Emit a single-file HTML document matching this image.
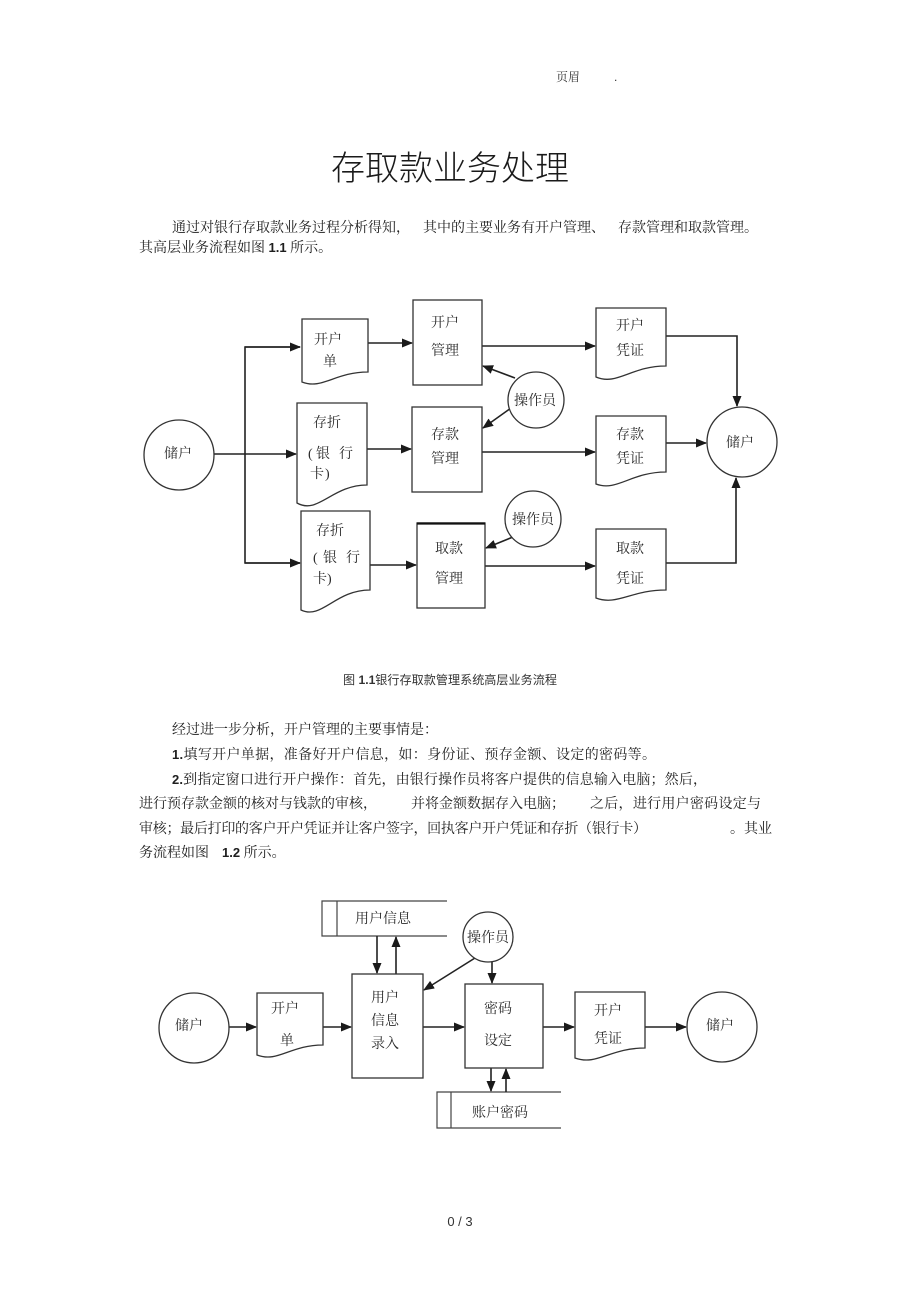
<!DOCTYPE html>
<html><head><meta charset="utf-8"><style>
html,body{margin:0;padding:0;background:#fff;}
svg{display:block;}
.t{font-family:"Liberation Serif","Noto Serif CJK SC",serif;font-size:14px;fill:#1e1e1e;}
.l{font-family:"Liberation Serif","Noto Serif CJK SC",serif;font-size:14px;fill:#2a2a2a;}
.n{font-family:"Liberation Sans",sans-serif;font-weight:bold;font-size:14px;fill:#1e1e1e;}
.s{fill:#fff;stroke:#333;stroke-width:1.3;}
.c{fill:none;stroke:#222;stroke-width:1.6;}
</style></head><body>
<svg width="920" height="1303" viewBox="0 0 920 1303" xmlns="http://www.w3.org/2000/svg">
<defs>
<marker id="a" markerWidth="11" markerHeight="9" refX="10" refY="4.5" orient="auto" markerUnits="userSpaceOnUse"><path d="M0,0 L11,4.5 L0,9 z" fill="#1a1a1a"/></marker>
</defs>

<!-- header -->
<text x="556" y="81" style="font-family:'Liberation Serif','Noto Serif CJK SC',serif;font-size:12px;fill:#333">页眉</text>
<text x="614" y="81" style="font-family:'Liberation Sans',sans-serif;font-size:12px;fill:#333">.</text>

<!-- title -->
<text x="450" y="180" text-anchor="middle" style="font-family:'Liberation Sans','Noto Sans CJK SC',sans-serif;font-weight:300;font-size:34px;fill:#1a1a1a">存取款业务处理</text>

<!-- paragraph 1 -->
<text class="t" x="172" y="232">通过对银行存取款业务过程分析得知，</text>
<text class="t" x="423" y="232">其中的主要业务有开户管理、</text>
<text class="t" x="618" y="232">存款管理和取款管理。</text>
<text class="t" x="139" y="252">其高层业务流程如图 <tspan class="n" style="font-size:13px">1.1</tspan> 所示。</text>

<!-- Diagram 1 -->
<g>
<!-- connectors -->
<line class="c" x1="214" y1="454" x2="296" y2="454" marker-end="url(#a)"/>
<polyline class="c" points="300,347 245,347 245,563 300,563"/>
<line class="c" x1="245" y1="347" x2="300" y2="347" marker-end="url(#a)"/>
<line class="c" x1="245" y1="563" x2="300" y2="563" marker-end="url(#a)"/>
<line class="c" x1="368" y1="343" x2="412" y2="343" marker-end="url(#a)"/>
<line class="c" x1="367" y1="449" x2="411" y2="449" marker-end="url(#a)"/>
<line class="c" x1="370" y1="565" x2="416" y2="565" marker-end="url(#a)"/>
<line class="c" x1="482" y1="346" x2="595" y2="346" marker-end="url(#a)"/>
<line class="c" x1="482" y1="452" x2="595" y2="452" marker-end="url(#a)"/>
<line class="c" x1="485" y1="566" x2="595" y2="566" marker-end="url(#a)"/>
<polyline class="c" points="666,336 737,336 737,406" marker-end="url(#a)"/>
<line class="c" x1="666" y1="443" x2="706" y2="443" marker-end="url(#a)"/>
<polyline class="c" points="666,563 736,563 736,478" marker-end="url(#a)"/>
<line class="c" x1="515" y1="378" x2="483" y2="366" marker-end="url(#a)"/>
<line class="c" x1="511" y1="408" x2="483" y2="428" marker-end="url(#a)"/>
<line class="c" x1="513" y1="537" x2="486" y2="548" marker-end="url(#a)"/>

<!-- shapes -->
<circle class="s" cx="179" cy="455" r="35"/>
<circle class="s" cx="742" cy="442" r="35"/>
<circle class="s" cx="536" cy="400" r="28"/>
<circle class="s" cx="533" cy="519" r="28"/>

<rect class="s" x="413" y="300" width="69" height="85"/>
<rect class="s" x="412" y="407" width="70" height="85"/>
<rect class="s" x="417" y="523" width="68" height="85"/>
<line x1="417" y1="523.5" x2="485" y2="523.5" stroke="#111" stroke-width="2.2"/>

<path class="s" d="M302,319 H368 V372 C335,372 322,390 302,382 Z"/>
<path class="s" d="M297,403 H367 V485 C332,485 318,515 297,503 Z"/>
<path class="s" d="M301,511 H370 V590 C335,590 322,620 301,610 Z"/>
<path class="s" d="M596,308 H666 V366 C631,366 617,386 596,377 Z"/>
<path class="s" d="M596,416 H666 V472 C631,472 617,492 596,484 Z"/>
<path class="s" d="M596,529 H666 V590 C631,590 617,606 596,598 Z"/>

<!-- labels -->
<text class="l" x="178" y="458" text-anchor="middle">储户</text>
<text class="l" x="740" y="447" text-anchor="middle">储户</text>
<text class="l" x="535" y="405" text-anchor="middle">操作员</text>
<text class="l" x="533" y="524" text-anchor="middle">操作员</text>

<text class="l" x="328" y="344" text-anchor="middle">开户</text>
<text class="l" x="330" y="366" text-anchor="middle">单</text>
<text class="l" x="445" y="327" text-anchor="middle">开户</text>
<text class="l" x="445" y="355" text-anchor="middle">管理</text>

<text class="l" x="327" y="427" text-anchor="middle">存折</text>
<text class="l" x="308" y="458">(</text><text class="l" x="316" y="458">银</text><text class="l" x="339" y="458">行</text>
<text class="l" x="310" y="478">卡</text><text class="l" x="325" y="478">)</text>
<text class="l" x="445" y="439" text-anchor="middle">存款</text>
<text class="l" x="445" y="463" text-anchor="middle">管理</text>

<text class="l" x="330" y="535" text-anchor="middle">存折</text>
<text class="l" x="313" y="562">(</text><text class="l" x="323" y="562">银</text><text class="l" x="346" y="562">行</text>
<text class="l" x="313" y="583">卡</text><text class="l" x="327" y="583">)</text>
<text class="l" x="449" y="553" text-anchor="middle">取款</text>
<text class="l" x="449" y="583" text-anchor="middle">管理</text>

<text class="l" x="630" y="330" text-anchor="middle">开户</text>
<text class="l" x="630" y="355" text-anchor="middle">凭证</text>
<text class="l" x="630" y="439" text-anchor="middle">存款</text>
<text class="l" x="630" y="463" text-anchor="middle">凭证</text>
<text class="l" x="630" y="553" text-anchor="middle">取款</text>
<text class="l" x="630" y="583" text-anchor="middle">凭证</text>
</g>

<!-- caption -->
<text x="343" y="684" textLength="214" lengthAdjust="spacingAndGlyphs" style="font-family:'Liberation Sans','Noto Sans CJK SC',sans-serif;font-size:12px;fill:#333">图 <tspan style="font-weight:bold">1.1</tspan>银行存取款管理系统高层业务流程</text>

<!-- paragraph 2 -->
<text class="t" x="172" y="734">经过进一步分析，开户管理的主要事情是：</text>
<text class="t" x="172" y="759" textLength="484" lengthAdjust="spacing"><tspan class="n" style="font-size:13px">1.</tspan>填写开户单据，准备好开户信息，如：身份证、预存金额、设定的密码等。</text>
<text class="t" x="172" y="784" textLength="535" lengthAdjust="spacing"><tspan class="n" style="font-size:13px">2.</tspan>到指定窗口进行开户操作：首先，由银行操作员将客户提供的信息输入电脑；然后，</text>
<text class="t" x="139" y="808">进行预存款金额的核对与钱款的审核，</text>
<text class="t" x="411" y="808">并将金额数据存入电脑；</text>
<text class="t" x="590" y="808" textLength="171" lengthAdjust="spacing">之后，进行用户密码设定与</text>
<text class="t" x="139" y="833" textLength="508" lengthAdjust="spacing">审核；最后打印的客户开户凭证并让客户签字，回执客户开户凭证和存折（银行卡）</text>
<text class="t" x="730" y="833">。其业</text>
<text class="t" x="139" y="857">务流程如图</text>
<text class="t" x="222" y="857"><tspan class="n" style="font-size:13px">1.2</tspan> 所示。</text>

<!-- Diagram 2 -->
<g>
<!-- data stores -->
<path d="M447,901 H322 V936 H447" fill="none" stroke="#444" stroke-width="1.2"/>
<line x1="337" y1="901" x2="337" y2="936" stroke="#444" stroke-width="1.2"/>
<path d="M561,1092 H437 V1128 H561" fill="none" stroke="#444" stroke-width="1.2"/>
<line x1="451" y1="1092" x2="451" y2="1128" stroke="#444" stroke-width="1.2"/>

<!-- connectors -->
<line class="c" x1="229" y1="1027" x2="256" y2="1027" marker-end="url(#a)"/>
<line class="c" x1="323" y1="1027" x2="351" y2="1027" marker-end="url(#a)"/>
<line class="c" x1="423" y1="1027" x2="464" y2="1027" marker-end="url(#a)"/>
<line class="c" x1="543" y1="1027" x2="574" y2="1027" marker-end="url(#a)"/>
<line class="c" x1="645" y1="1027" x2="686" y2="1027" marker-end="url(#a)"/>
<line class="c" x1="377" y1="936" x2="377" y2="973" marker-end="url(#a)"/>
<line class="c" x1="396" y1="974" x2="396" y2="937" marker-end="url(#a)"/>
<line class="c" x1="475" y1="958" x2="424" y2="990" marker-end="url(#a)"/>
<line class="c" x1="492" y1="962" x2="492" y2="983" marker-end="url(#a)"/>
<line class="c" x1="491" y1="1068" x2="491" y2="1091" marker-end="url(#a)"/>
<line class="c" x1="506" y1="1092" x2="506" y2="1069" marker-end="url(#a)"/>

<!-- shapes -->
<circle class="s" cx="194" cy="1028" r="35"/>
<circle class="s" cx="722" cy="1027" r="35"/>
<circle class="s" cx="488" cy="937" r="25"/>
<rect class="s" x="352" y="974" width="71" height="104"/>
<rect class="s" x="465" y="984" width="78" height="84"/>
<path class="s" d="M257,993 H323 V1045 C290,1045 278,1063 257,1055 Z"/>
<path class="s" d="M575,992 H645 V1048 C610,1048 597,1066 575,1058 Z"/>

<!-- labels -->
<text class="l" x="383" y="923" text-anchor="middle">用户信息</text>
<text class="l" x="488" y="942" text-anchor="middle">操作员</text>
<text class="l" x="189" y="1030" text-anchor="middle">储户</text>
<text class="l" x="720" y="1030" text-anchor="middle">储户</text>
<text class="l" x="285" y="1013" text-anchor="middle">开户</text>
<text class="l" x="287" y="1045" text-anchor="middle">单</text>
<text class="l" x="385" y="1002" text-anchor="middle">用户</text>
<text class="l" x="385" y="1025" text-anchor="middle">信息</text>
<text class="l" x="385" y="1048" text-anchor="middle">录入</text>
<text class="l" x="498" y="1013" text-anchor="middle">密码</text>
<text class="l" x="498" y="1045" text-anchor="middle">设定</text>
<text class="l" x="608" y="1015" text-anchor="middle">开户</text>
<text class="l" x="608" y="1043" text-anchor="middle">凭证</text>
<text class="l" x="500" y="1117" text-anchor="middle">账户密码</text>
</g>

<!-- footer -->
<text x="460" y="1226" text-anchor="middle" style="font-family:'Liberation Sans',sans-serif;font-size:13px;fill:#333">0 / 3</text>
</svg>
</body></html>
